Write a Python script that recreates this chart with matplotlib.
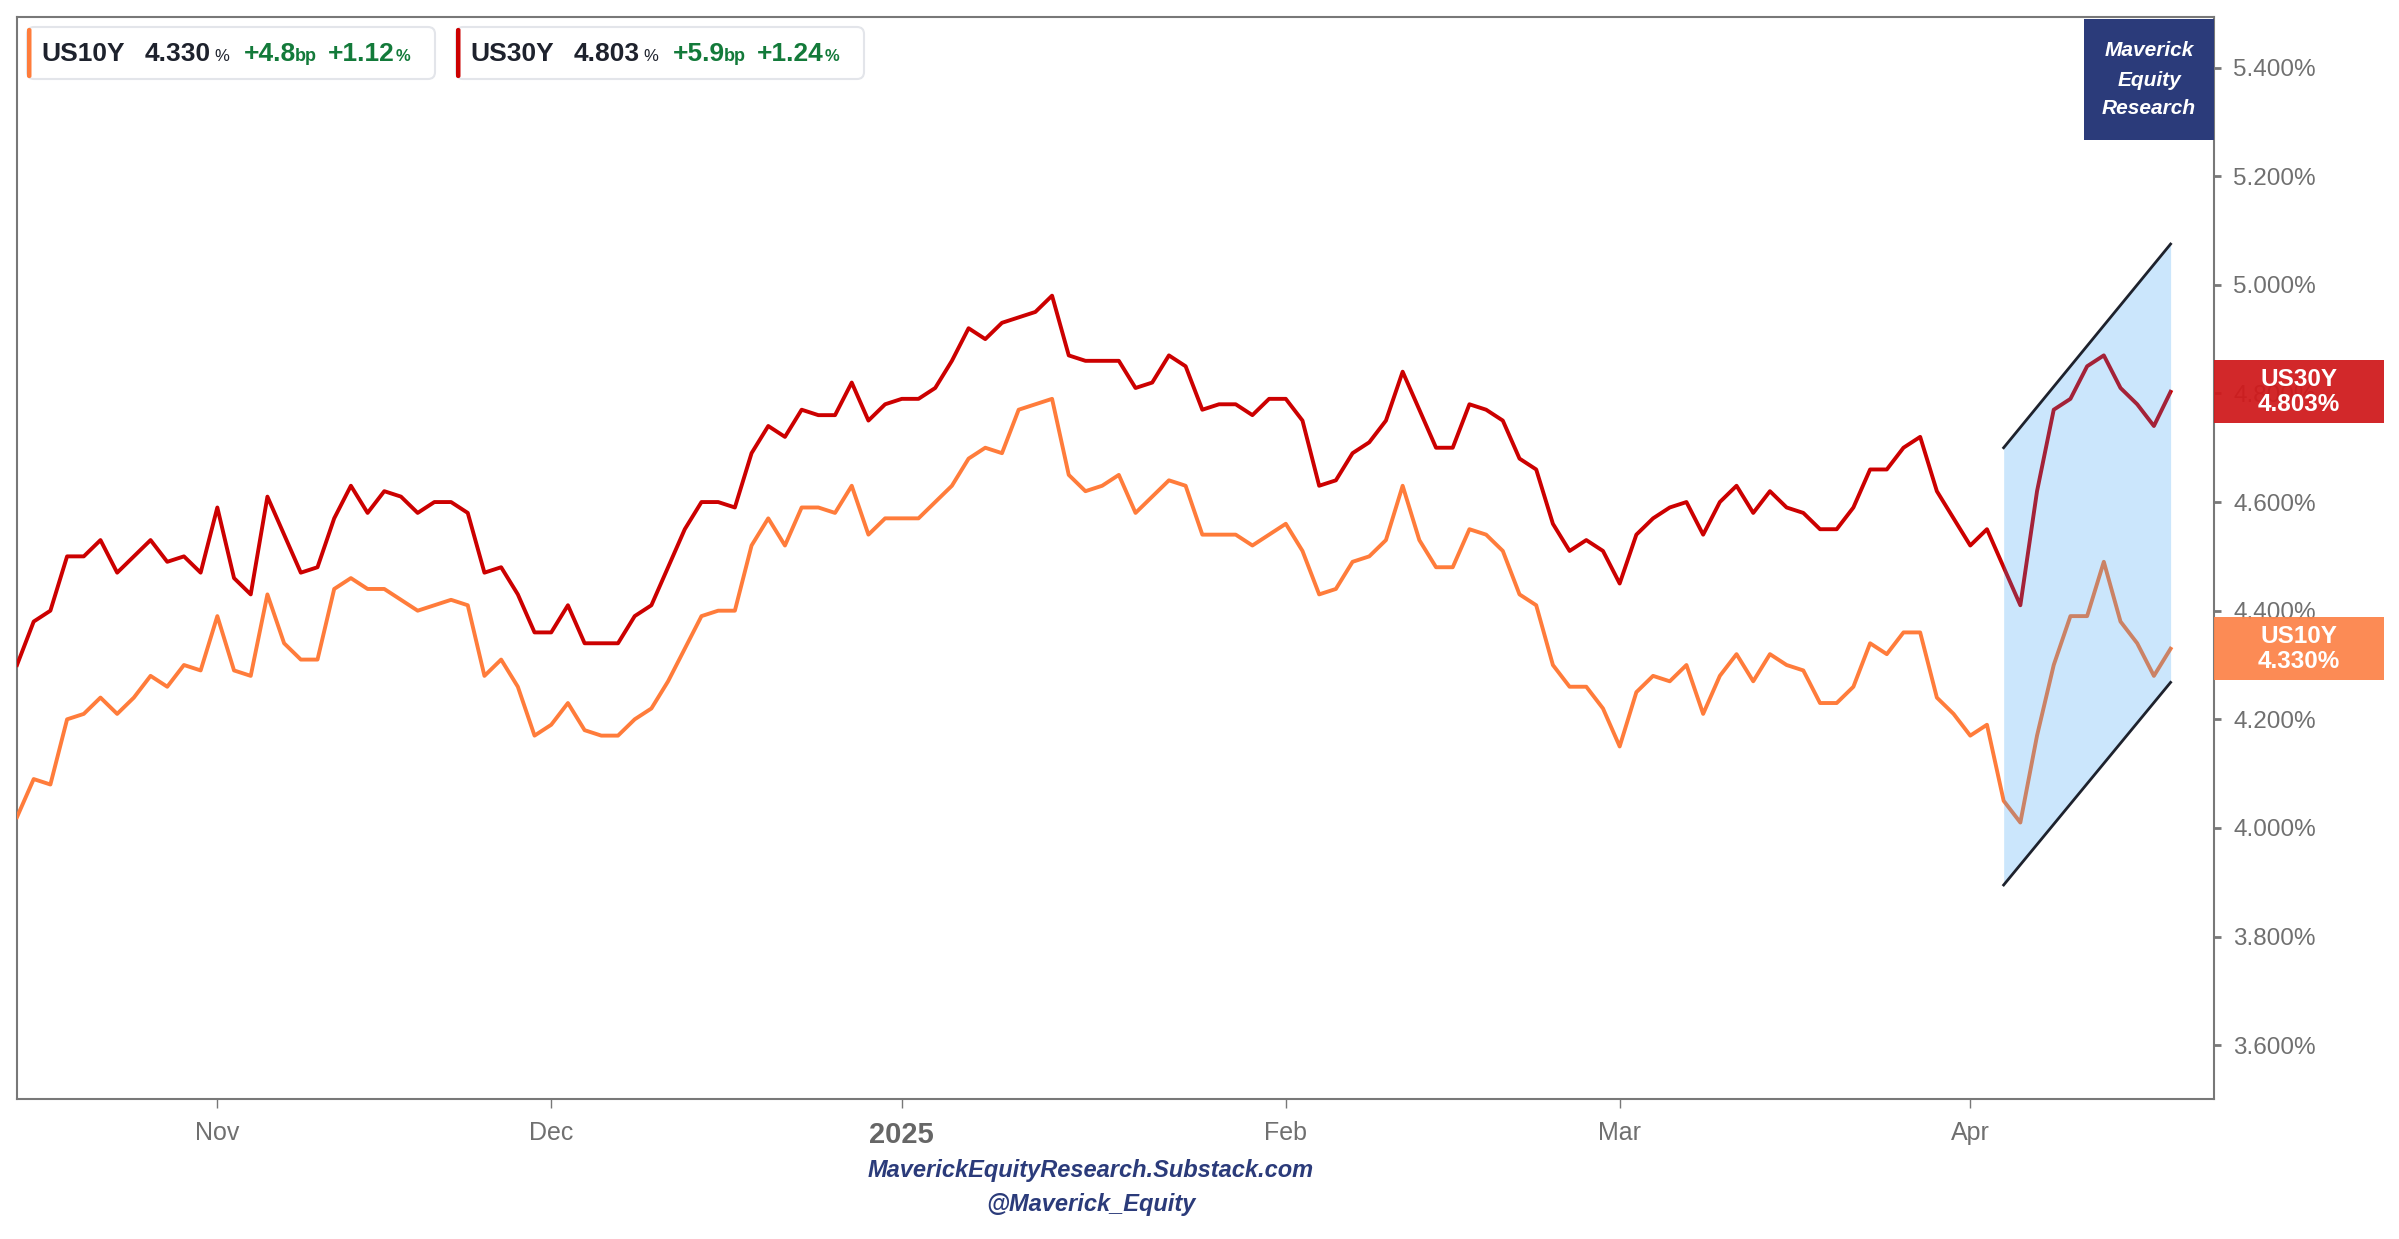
import numpy as np
import matplotlib
matplotlib.use("Agg")
import matplotlib.pyplot as plt
from matplotlib.patches import Rectangle, FancyBboxPatch
from matplotlib.transforms import blended_transform_factory

plt.rcParams['font.family'] = ['Liberation Sans', 'DejaVu Sans']

# daily closes (trading days, mid Oct 2024 -> 17 Apr 2025)
us10y = [4.02, 4.09, 4.08, 4.20, 4.21, 4.24, 4.21, 4.24, 4.28, 4.26,
         4.30, 4.29, 4.39, 4.29, 4.28, 4.43, 4.34, 4.31, 4.31, 4.44,
         4.46, 4.44, 4.44, 4.42, 4.40, 4.41, 4.42, 4.41, 4.28, 4.31,
         4.26, 4.17, 4.19, 4.23, 4.18, 4.17, 4.17, 4.20, 4.22, 4.27,
         4.33, 4.39, 4.40, 4.40, 4.52, 4.57, 4.52, 4.59, 4.59, 4.58,
         4.63, 4.54, 4.57, 4.57, 4.57, 4.60, 4.63, 4.68, 4.70, 4.69,
         4.77, 4.78, 4.79, 4.65, 4.62, 4.63, 4.65, 4.58, 4.61, 4.64,
         4.63, 4.54, 4.54, 4.54, 4.52, 4.54, 4.56, 4.51, 4.43, 4.44,
         4.49, 4.50, 4.53, 4.63, 4.53, 4.48, 4.48, 4.55, 4.54, 4.51,
         4.43, 4.41, 4.30, 4.26, 4.26, 4.22, 4.15, 4.25, 4.28, 4.27,
         4.30, 4.21, 4.28, 4.32, 4.27, 4.32, 4.30, 4.29, 4.23, 4.23,
         4.26, 4.34, 4.32, 4.36, 4.36, 4.24, 4.21, 4.17, 4.19, 4.05,
         4.01, 4.17, 4.30, 4.39, 4.39, 4.49, 4.38, 4.34, 4.28, 4.330]

us30y = [4.30, 4.38, 4.40, 4.50, 4.50, 4.53, 4.47, 4.50, 4.53, 4.49,
         4.50, 4.47, 4.59, 4.46, 4.43, 4.61, 4.54, 4.47, 4.48, 4.57,
         4.63, 4.58, 4.62, 4.61, 4.58, 4.60, 4.60, 4.58, 4.47, 4.48,
         4.43, 4.36, 4.36, 4.41, 4.34, 4.34, 4.34, 4.39, 4.41, 4.48,
         4.55, 4.60, 4.60, 4.59, 4.69, 4.74, 4.72, 4.77, 4.76, 4.76,
         4.82, 4.75, 4.78, 4.79, 4.79, 4.81, 4.86, 4.92, 4.90, 4.93,
         4.94, 4.95, 4.98, 4.87, 4.86, 4.86, 4.86, 4.81, 4.82, 4.87,
         4.85, 4.77, 4.78, 4.78, 4.76, 4.79, 4.79, 4.75, 4.63, 4.64,
         4.69, 4.71, 4.75, 4.84, 4.77, 4.70, 4.70, 4.78, 4.77, 4.75,
         4.68, 4.66, 4.56, 4.51, 4.53, 4.51, 4.45, 4.54, 4.57, 4.59,
         4.60, 4.54, 4.60, 4.63, 4.58, 4.62, 4.59, 4.58, 4.55, 4.55,
         4.59, 4.66, 4.66, 4.70, 4.72, 4.62, 4.57, 4.52, 4.55, 4.48,
         4.41, 4.62, 4.77, 4.79, 4.85, 4.87, 4.81, 4.78, 4.74, 4.803]

names = ['US10Y', 'US30Y']
change_bp = [4.8, 5.9]
change_pct = [1.12, 1.24]

month_ticks = [12, 32, 53, 76, 96, 117]
month_labels = ['Nov', 'Dec', '2025', 'Feb', 'Mar', 'Apr']
y_ticks = [3.6, 3.8, 4.0, 4.2, 4.4, 4.6, 4.8, 5.0, 5.2, 5.4]

# drawn channel
channel_x = [119, 129]
channel_upper = [4.70, 5.075]
channel_lower = [3.895, 4.268]

c10 = '#ff7c3b'
c30 = '#cc0000'
grey = '#787878'
navy = '#2b3b7a'
green = '#137a3a'

W, H = 2399, 1239
fig = plt.figure(figsize=(W / 100, H / 100), dpi=100)
ax = fig.add_axes([17 / W, 1 - 1099 / H, (2214 - 17) / W, (1099 - 17) / H])

x = np.arange(len(us10y))
ax.plot(x, us10y, color=c10, lw=2.8, zorder=3)
ax.plot(x, us30y, color=c30, lw=2.8, zorder=3)

ax.fill_between(channel_x, channel_lower, channel_upper, color='#2196f3',
                alpha=0.23, lw=0, zorder=4)
ax.plot(channel_x, channel_upper, color='#1e222d', lw=2.0, zorder=5)
ax.plot(channel_x, channel_lower, color='#1e222d', lw=2.0, zorder=5)

ax.set_xlim(0, 131.6)
ax.set_ylim(3.501, 5.493)

for s in ax.spines.values():
    s.set_color(grey)
    s.set_linewidth(1.5)

ax.yaxis.tick_right()
ax.set_yticks(y_ticks)
ax.set_yticklabels([f"{v:.3f}%" for v in y_ticks])
ax.tick_params(axis='y', length=5, width=2, color=grey, pad=9,
               labelsize=17.5, labelcolor='#707070')
ax.set_xticks(month_ticks)
ax.set_xticklabels(month_labels)
ax.tick_params(axis='x', length=6.3, width=1, color=grey, pad=9.5,
               labelsize=18, labelcolor='#707070')
for lbl in ax.get_xticklabels():
    if lbl.get_text() == '2025':
        lbl.set_fontweight('bold')
        lbl.set_fontsize(21)
        lbl.set_color('#666666')

# last value labels on the price scale
tr = blended_transform_factory(ax.transAxes, ax.transData)
box_w = 170 / 2197
box_h = 63 / 543.3
for val, name, col in [(us30y[-1], 'US30Y', '#d01a1c'), (us10y[-1], 'US10Y', '#fc844a')]:
    ax.add_patch(Rectangle((1.0, val - box_h / 2), box_w, box_h, transform=tr,
                           facecolor=col, edgecolor='none', alpha=0.94,
                           clip_on=False, zorder=10))
    ax.text(1 + box_w / 2, val + 0.023, name, transform=tr, ha='center', va='center',
            color='white', fontsize=17.5, fontweight='bold', zorder=11, clip_on=False)
    ax.text(1 + box_w / 2, val - 0.023, f"{val:.3f}%", transform=tr, ha='center',
            va='center', color='white', fontsize=17.5, fontweight='bold', zorder=11,
            clip_on=False)

# overlay in pixel coords for legend, logo, footer
ov = fig.add_axes([0, 0, 1, 1], zorder=20)
ov.set_xlim(0, W)
ov.set_ylim(H, 0)
ov.axis('off')

last = [us10y[-1], us30y[-1]]
colors = [c10, c30]
for i, left in enumerate([27, 456]):
    ov.add_patch(FancyBboxPatch((left, 27), 408, 52, boxstyle='round,pad=0,rounding_size=7',
                                fc='white', ec='#e3e5ea', lw=1.5))
    ov.add_patch(FancyBboxPatch((left, 28), 4.5, 50, boxstyle='round,pad=0,rounding_size=2',
                                fc=colors[i], ec='none'))
    base = 61
    ov.text(left + 14, base, names[i], fontsize=19, fontweight='bold', color='#1e222d', va='baseline')
    ov.text(left + 118, base, f"{last[i]:.3f}", fontsize=19, fontweight='bold', color='#1e222d', va='baseline')
    ov.text(left + 187, base, '%', fontsize=12, color='#1e222d', va='baseline')
    ov.text(left + 217, base, f"+{change_bp[i]:.1f}", fontsize=19, fontweight='bold', color=green, va='baseline')
    ov.text(left + 268, base, 'bp', fontsize=13, fontweight='bold', color=green, va='baseline')
    ov.text(left + 301, base, f"+{change_pct[i]:.2f}", fontsize=19, fontweight='bold', color=green, va='baseline')
    ov.text(left + 369, base, '%', fontsize=12, fontweight='bold', color=green, va='baseline')

# logo
ov.add_patch(Rectangle((2084, 19), 130, 121, fc=navy, ec='none'))
for yy, word in zip([51, 80, 108], ['Maverick', 'Equity', 'Research']):
    ov.text(2149, yy, word, ha='center', va='center', color='white', fontsize=15,
            fontweight='bold', fontstyle='italic')

# footer
ov.text(1091, 1170, 'MaverickEquityResearch.Substack.com', ha='center', va='center',
        fontsize=17, fontweight='bold', fontstyle='italic', color=navy)
ov.text(1091, 1204, '@Maverick_Equity', ha='center', va='center',
        fontsize=17, fontweight='bold', fontstyle='italic', color=navy)

fig.savefig('out.png', dpi=100)
